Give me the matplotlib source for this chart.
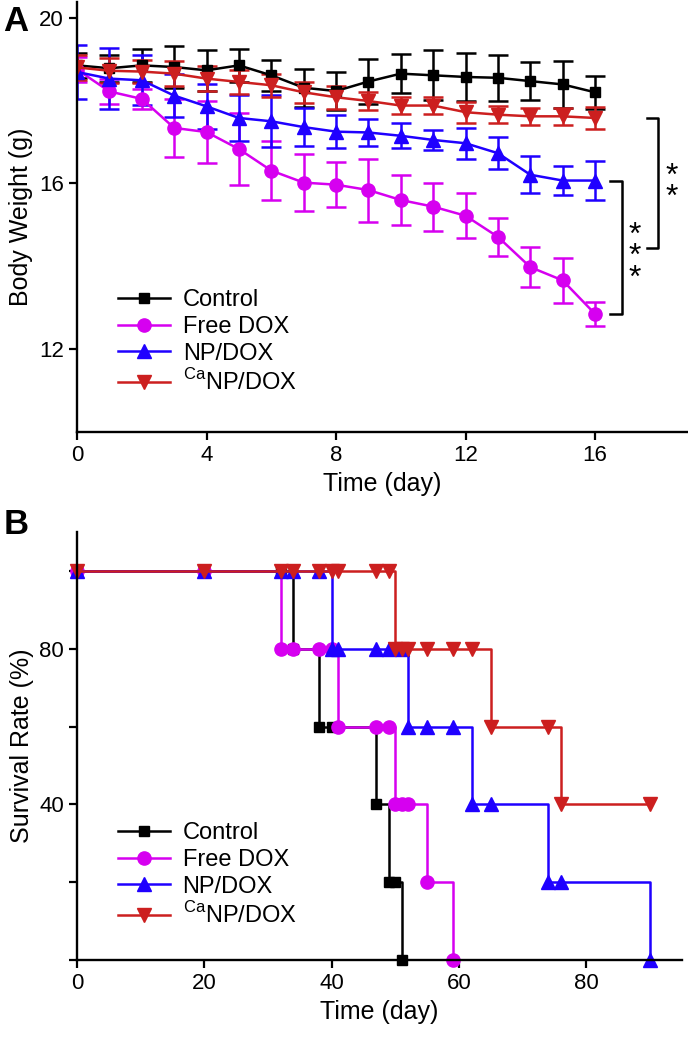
import numpy as np
import matplotlib
matplotlib.use("Agg")
import matplotlib.pyplot as plt
from matplotlib.lines import Line2D

plt.rcParams['font.family'] = ['Liberation Sans', 'DejaVu Sans']
plt.rcParams['mathtext.fontset'] = 'custom'
plt.rcParams['mathtext.rm'] = 'Liberation Sans'

# body weight (panel A)
days = np.arange(0, 17)
ctrl_w = [18.85, 18.78, 18.85, 18.81, 18.73, 18.85, 18.61, 18.31, 18.23, 18.46, 18.65, 18.61, 18.57, 18.55, 18.47, 18.39, 18.20]
ctrl_err = [0.30, 0.32, 0.40, 0.50, 0.49, 0.40, 0.38, 0.46, 0.46, 0.54, 0.47, 0.60, 0.58, 0.56, 0.46, 0.57, 0.40]
free_w = [18.75, 18.22, 18.04, 17.34, 17.24, 16.83, 16.31, 16.02, 15.97, 15.84, 15.60, 15.44, 15.22, 14.71, 13.98, 13.66, 12.85]
free_err = [0.30, 0.30, 0.25, 0.69, 0.74, 0.86, 0.71, 0.69, 0.55, 0.76, 0.60, 0.58, 0.54, 0.46, 0.48, 0.54, 0.30]
np_w = [18.69, 18.53, 18.49, 18.12, 17.86, 17.58, 17.50, 17.36, 17.25, 17.23, 17.15, 17.05, 16.97, 16.73, 16.21, 16.07, 16.07]
np_err = [0.64, 0.74, 0.60, 0.52, 0.55, 0.55, 0.63, 0.45, 0.40, 0.33, 0.30, 0.25, 0.37, 0.38, 0.45, 0.36, 0.46]
ca_w = [18.80, 18.72, 18.70, 18.65, 18.53, 18.45, 18.37, 18.20, 18.08, 17.99, 17.88, 17.88, 17.72, 17.66, 17.62, 17.62, 17.58]
ca_err = [0.30, 0.30, 0.28, 0.30, 0.30, 0.30, 0.28, 0.25, 0.28, 0.22, 0.20, 0.20, 0.25, 0.20, 0.20, 0.20, 0.27]

# survival (panel B)
ctrl_t = [0, 20, 32, 34, 38, 40, 47, 49, 50, 51]
ctrl_s = [100, 100, 100, 80, 60, 60, 40, 20, 20, 0]
free_t = [0, 20, 32, 34, 38, 40, 41, 47, 49, 50, 51, 52, 55, 59]
free_s = [100, 100, 80, 80, 80, 80, 60, 60, 60, 40, 40, 40, 20, 0]
np_t = [0, 20, 32, 34, 38, 40, 41, 47, 49, 51, 52, 55, 59, 62, 65, 74, 76, 90]
np_s = [100, 100, 100, 100, 100, 80, 80, 80, 80, 80, 60, 60, 60, 40, 40, 20, 20, 0]
ca_t = [0, 20, 32, 34, 38, 40, 41, 47, 49, 50, 51, 52, 55, 59, 62, 65, 74, 76, 90]
ca_s = [100, 100, 100, 100, 100, 100, 100, 100, 100, 80, 80, 80, 80, 80, 80, 60, 60, 40, 40]

labels = ['Control', 'Free DOX', 'NP/DOX', r'$^{\mathrm{Ca}}$NP/DOX']
colors = ['#000000', '#d600f0', '#1f00ff', '#cc1f1f']
markers = ['s', 'o', '^', 'v']
msizes = [7.5, 9.5, 9.5, 9.5]
LW = 1.8

fig = plt.figure(figsize=(6.88, 10.4), dpi=100)
axA = fig.add_axes([0.112, 0.5846, 0.887, 0.4135])
axB = fig.add_axes([0.112, 0.0769, 0.879, 0.4115])

def style(ax):
    for s in ['top', 'right']:
        ax.spines[s].set_visible(False)
    for s in ['left', 'bottom']:
        ax.spines[s].set_linewidth(1.7)
    ax.tick_params(direction='out', length=6, width=1.6, labelsize=16)

def add_legend(ax, y0):
    handles = [Line2D([], [], color=c, marker=m, ms=ms, lw=LW)
               for c, m, ms in zip(colors, markers, msizes)]
    ax.legend(handles, labels, loc='upper left', bbox_to_anchor=(0.067, y0), frameon=False,
              fontsize=17, handlelength=2.2, handletextpad=0.55, labelspacing=0.2,
              borderaxespad=0, borderpad=0)

# panel A
weights = [ctrl_w, free_w, np_w, ca_w]
errs = [ctrl_err, free_err, np_err, ca_err]
for w, e, c, m, ms in zip(weights, errs, colors, markers, msizes):
    axA.errorbar(days, w, yerr=e, color=c, marker=m, ms=ms, lw=LW,
                 elinewidth=LW, capsize=7, capthick=LW)
style(axA)
axA.set_xlim(0, 18.85)
axA.set_ylim(10, 20.38)
axA.set_xticks([0, 4, 8, 12, 16])
axA.set_yticks([12, 16, 20])
axA.set_xlabel('Time (day)', fontsize=18)
axA.set_ylabel('Body Weight (g)', fontsize=18)
add_legend(axA, 0.332)

# significance brackets
axA.plot([17.6, 17.93, 17.93, 17.6], [ca_w[-1], ca_w[-1], 14.44, 14.44], color='k', lw=LW, clip_on=False)
axA.plot([16.45, 16.82, 16.82, 16.45], [np_w[-1], np_w[-1], free_w[-1], free_w[-1]], color='k', lw=LW, clip_on=False)
axA.text(18.36, 15.9, '*\n*', fontsize=23, ha='center', va='center', linespacing=0.62)
axA.text(17.22, 14.22, '*\n*\n*', fontsize=23, ha='center', va='center', linespacing=0.62)

# panel B
times = [ctrl_t, free_t, np_t, ca_t]
surv = [ctrl_s, free_s, np_s, ca_s]
for t, s, c, m, ms in zip(times, surv, colors, markers, msizes):
    axB.plot(t, s, drawstyle='steps-post', color=c, marker=m, ms=ms, lw=LW, clip_on=False)
style(axB)
axB.set_xlim(0, 95)
axB.set_ylim(0, 110)
axB.set_xticks([0, 20, 40, 60, 80])
axB.set_yticks([0, 20, 40, 60, 80, 100])
axB.set_yticklabels(['', '', '40', '', '80', ''])
axB.set_xlabel('Time (day)', fontsize=18)
axB.set_ylabel('Survival Rate (%)', fontsize=18)
add_legend(axB, 0.322)

fig.text(0.005, 0.995, 'A', fontsize=25, fontweight='bold', va='top')
fig.text(0.005, 0.512, 'B', fontsize=25, fontweight='bold', va='top')

fig.savefig('out.png', dpi=100)
